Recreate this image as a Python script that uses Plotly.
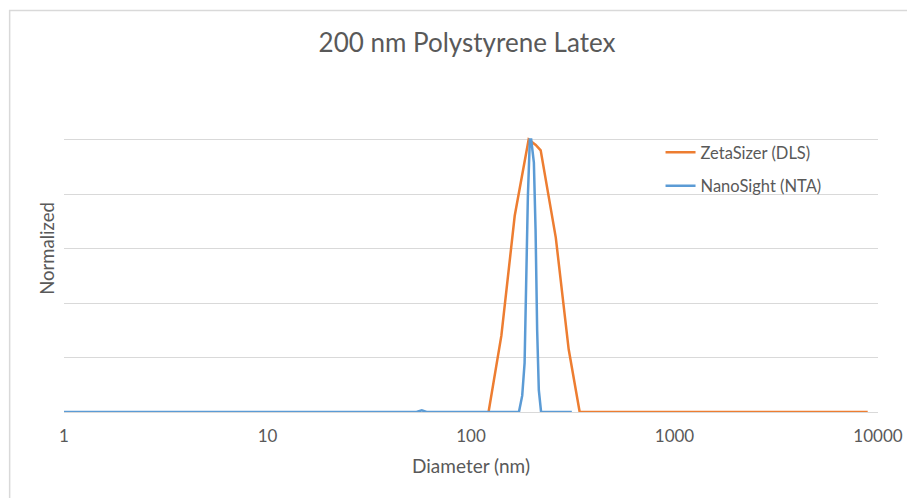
import plotly.graph_objects as go

# ZetaSizer (DLS) distribution
dls_d = [122, 141, 164, 192, 208, 220, 261, 302, 342, 8900]
dls_v = [0, 0.28, 0.72, 1.0, 0.98, 0.96, 0.64, 0.23, 0, 0]

# NanoSight (NTA) distribution
nta_d = [1, 54, 57.3, 60.5, 172, 178.5, 183.4, 187.5, 190.3, 194.6, 197.6,
         203.7, 207.6, 211.4, 215.4, 221, 313]
nta_v = [0, 0, 0.006, 0, 0, 0.06, 0.18, 0.55, 0.79, 1.0, 1.0,
         0.915, 0.67, 0.30, 0.08, 0, 0]

x_ticks = [1, 10, 100, 1000, 10000]
x_tick_labels = ["1", "10", "100", "1000", "10000"]

FONT = "Lato"
TXT = "#595959"
GRID = "#D9D9D9"

# page body has an 8px margin; figure origin sits at (8, 8) on the page
OFF = 8
W, H = 907, 490
L, R, T, B = 56, 35, 77, 86
pw, ph = W - L - R, H - T - B

def px2paper_x(page_px):
    return (page_px - OFF - L) / pw

def px2paper_y(page_py):
    return (H - B - (page_py - OFF)) / ph

fig = go.Figure()
fig.add_trace(go.Scatter(x=dls_d, y=dls_v, mode="lines", name="ZetaSizer (DLS)",
                         legendgroup="dls",
                         line=dict(color="#ED7D31", width=2.5)))
fig.add_trace(go.Scatter(x=nta_d, y=nta_v, mode="lines", name="NanoSight (NTA)",
                         legendgroup="nta",
                         line=dict(color="#5B9BD5", width=2.5)))

fig.add_shape(type="rect", xref="paper", yref="paper",
              x0=px2paper_x(9.5), x1=px2paper_x(960),
              y0=px2paper_y(540), y1=px2paper_y(10.5),
              line=dict(color=GRID, width=1.5), layer="below")

fig.update_layout(
    width=W, height=H,
    margin=dict(l=L, r=R, t=T, b=B),
    paper_bgcolor="white", plot_bgcolor="white",
    title=dict(text="200 nm Polystyrene Latex", x=(467 - OFF) / W,
               xanchor="center", y=1 - (43 - OFF) / H, yanchor="middle",
               font=dict(family=FONT, size=26, color=TXT)),
    font=dict(family=FONT, color=TXT),
    showlegend=True,
    legend=dict(x=px2paper_x(662), y=px2paper_y(135), xanchor="left", yanchor="top",
                bgcolor="rgba(0,0,0,0)", font=dict(family=FONT, size=16.5, color=TXT),
                tracegroupgap=9, itemwidth=30),
    xaxis=dict(type="log", range=[0, 4], tickvals=x_ticks, ticktext=x_tick_labels,
               showgrid=False, zeroline=False, showline=True, linecolor=GRID, linewidth=1,
               ticks="outside", ticklen=9, tickcolor="rgba(0,0,0,0)",
               tickfont=dict(family=FONT, size=17, color=TXT),
               title=dict(text="Diameter (nm)", standoff=14,
                          font=dict(family=FONT, size=19, color=TXT))),
    yaxis=dict(range=[0, 1.2], dtick=0.2, showgrid=True, gridcolor=GRID, gridwidth=1,
               zeroline=False, showline=False, showticklabels=False, ticks="",
               title=dict(text="Normalized", standoff=3,
                          font=dict(family=FONT, size=18.5, color=TXT))),
)

fig.write_html("out.html")
